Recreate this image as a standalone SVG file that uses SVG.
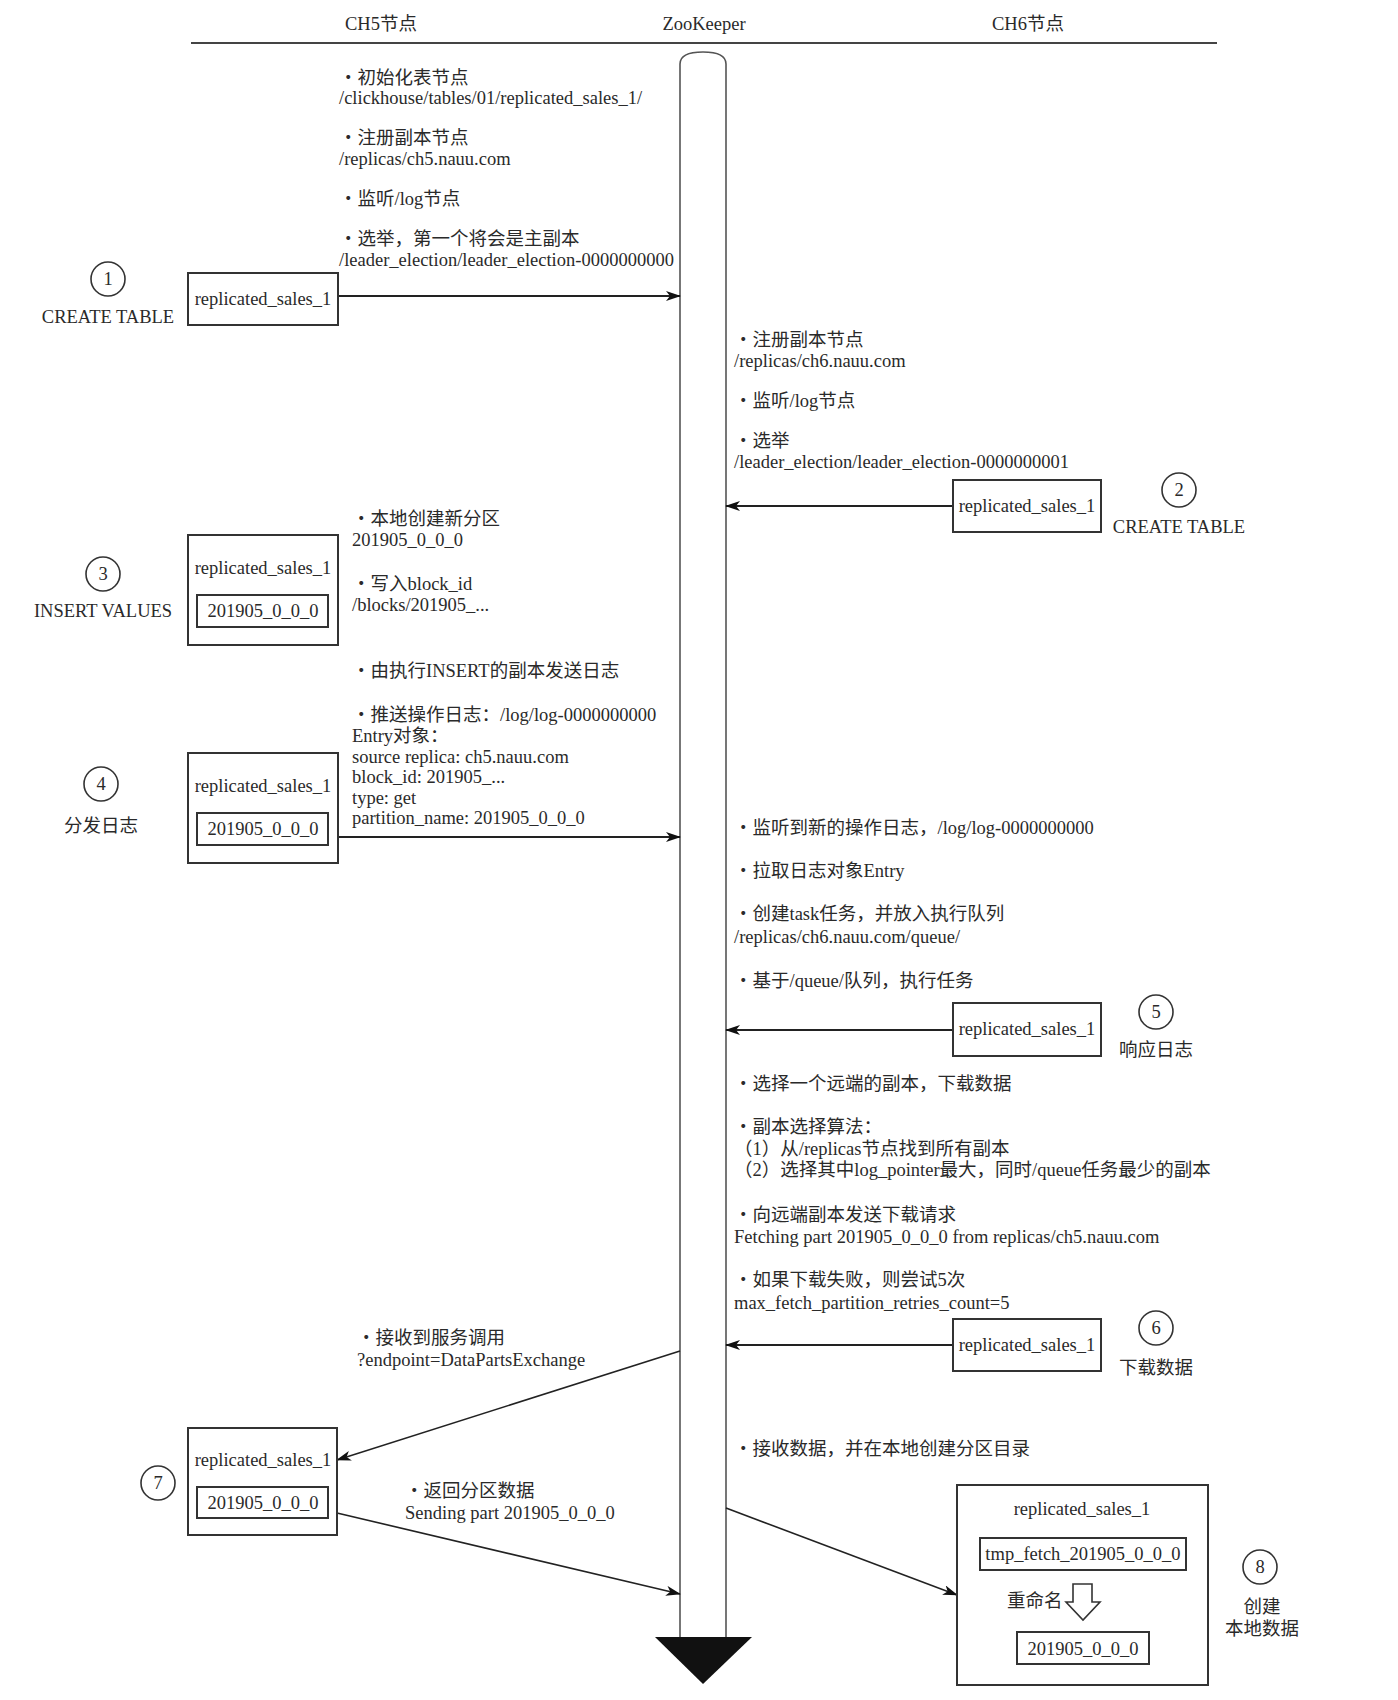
<svg xmlns="http://www.w3.org/2000/svg" width="1398" height="1700" viewBox="0 0 1398 1700">
<style>
.t{font-family:'Liberation Serif','Noto Sans CJK SC',serif;font-size:18.5px;fill:#2a2a2a}
.m{text-anchor:middle}
.box{fill:#fff;stroke:#333;stroke-width:2}
.circ{fill:none;stroke:#333;stroke-width:1.6}
.conn{stroke:#222;stroke-width:2;fill:none;marker-end:url(#ah)}
.diag{stroke:#222;stroke-width:1.6;fill:none;marker-end:url(#ah)}
</style>
<defs>
<marker id="ah" markerUnits="userSpaceOnUse" markerWidth="15" markerHeight="10" refX="14" refY="5" orient="auto">
<path d="M0,0 L15,5 L0,10 L4,5 z" fill="#111"/>
</marker>
</defs>
<rect width="1398" height="1700" fill="#fff"/>

<g id="header">
<text class="t m" x="381" y="30">CH5节点</text>
<text class="t m" x="704" y="30">ZooKeeper</text>
<text class="t m" x="1028" y="30">CH6节点</text>
<line x1="191" y1="43" x2="1217" y2="43" stroke="#444" stroke-width="2"/>
</g>

<g id="zookeeper">
<path d="M680,1637 V64 C680,55 690,52 703,52 C716,52 726,55 726,64 V1637" fill="#fff" stroke="#555" stroke-width="1.6"/>
<path d="M655,1637 L752,1637 L703,1684 z" fill="#111"/>
</g>

<g id="connectors">
<path class="conn" d="M338,296 H680"/>
<path class="conn" d="M953,506 H726"/>
<path class="conn" d="M338,837 H680"/>
<path class="conn" d="M953,1030 H726"/>
<path class="conn" d="M953,1345 H726"/>
<path class="diag" d="M680,1351 L337,1460"/>
<path class="diag" d="M337,1513 L680,1594"/>
<path class="diag" d="M726,1508 L957,1595"/>
</g>

<g id="notes-ch5-init">
<text class="t" x="339" y="84">・初始化表节点</text>
<text class="t" x="339" y="104">/clickhouse/tables/01/replicated_sales_1/</text>
<text class="t" x="339" y="144">・注册副本节点</text>
<text class="t" x="339" y="165">/replicas/ch5.nauu.com</text>
<text class="t" x="339" y="205">・监听/log节点</text>
<text class="t" x="339" y="245">・选举，第一个将会是主副本</text>
<text class="t" x="339" y="266">/leader_election/leader_election-0000000000</text>
</g>

<g id="node1">
<circle class="circ" cx="108" cy="279" r="17"/>
<text class="t m" x="108" y="285">1</text>
<text class="t m" x="108" y="323">CREATE TABLE</text>
<rect class="box" x="188" y="273" width="150" height="52"/>
<text class="t m" x="263" y="305">replicated_sales_1</text>
</g>

<g id="notes-ch6-init">
<text class="t" x="734" y="346">・注册副本节点</text>
<text class="t" x="734" y="367">/replicas/ch6.nauu.com</text>
<text class="t" x="734" y="407">・监听/log节点</text>
<text class="t" x="734" y="447">・选举</text>
<text class="t" x="734" y="468">/leader_election/leader_election-0000000001</text>
</g>

<g id="node2">
<rect class="box" x="953" y="480" width="148" height="52"/>
<text class="t m" x="1027" y="512">replicated_sales_1</text>
<circle class="circ" cx="1179" cy="490" r="17"/>
<text class="t m" x="1179" y="496">2</text>
<text class="t m" x="1179" y="533">CREATE TABLE</text>
</g>

<g id="node3">
<circle class="circ" cx="103" cy="574" r="17"/>
<text class="t m" x="103" y="580">3</text>
<text class="t m" x="103" y="617">INSERT VALUES</text>
<rect class="box" x="188" y="535" width="150" height="110"/>
<text class="t m" x="263" y="574">replicated_sales_1</text>
<rect class="box" x="197" y="595" width="131" height="32"/>
<text class="t m" x="263" y="617">201905_0_0_0</text>
</g>

<g id="notes-node3">
<text class="t" x="352" y="525">・本地创建新分区</text>
<text class="t" x="352" y="546">201905_0_0_0</text>
<text class="t" x="352" y="590">・写入block_id</text>
<text class="t" x="352" y="611">/blocks/201905_...</text>
</g>

<g id="notes-node4">
<text class="t" x="352" y="677">・由执行INSERT的副本发送日志</text>
<text class="t" x="352" y="721">・推送操作日志：/log/log-0000000000</text>
<text class="t" x="352" y="742">Entry对象：</text>
<text class="t" x="352" y="763">source replica: ch5.nauu.com</text>
<text class="t" x="352" y="783">block_id: 201905_...</text>
<text class="t" x="352" y="804">type: get</text>
<text class="t" x="352" y="824">partition_name: 201905_0_0_0</text>
</g>

<g id="node4">
<circle class="circ" cx="101" cy="784" r="17"/>
<text class="t m" x="101" y="790">4</text>
<text class="t m" x="101" y="832">分发日志</text>
<rect class="box" x="188" y="753" width="150" height="110"/>
<text class="t m" x="263" y="792">replicated_sales_1</text>
<rect class="box" x="197" y="813" width="131" height="32"/>
<text class="t m" x="263" y="835">201905_0_0_0</text>
</g>

<g id="notes-node5">
<text class="t" x="734" y="834">・监听到新的操作日志，/log/log-0000000000</text>
<text class="t" x="734" y="877">・拉取日志对象Entry</text>
<text class="t" x="734" y="920">・创建task任务，并放入执行队列</text>
<text class="t" x="734" y="943">/replicas/ch6.nauu.com/queue/</text>
<text class="t" x="734" y="987">・基于/queue/队列，执行任务</text>
</g>

<g id="node5">
<rect class="box" x="953" y="1003" width="148" height="53"/>
<text class="t m" x="1027" y="1035">replicated_sales_1</text>
<circle class="circ" cx="1156" cy="1012" r="17"/>
<text class="t m" x="1156" y="1018">5</text>
<text class="t m" x="1156" y="1056">响应日志</text>
</g>

<g id="notes-node6">
<text class="t" x="734" y="1090">・选择一个远端的副本，下载数据</text>
<text class="t" x="734" y="1133">・副本选择算法：</text>
<text class="t" x="734" y="1155">（1）从/replicas节点找到所有副本</text>
<text class="t" x="734" y="1176">（2）选择其中log_pointer最大，同时/queue任务最少的副本</text>
<text class="t" x="734" y="1221">・向远端副本发送下载请求</text>
<text class="t" x="734" y="1243">Fetching part 201905_0_0_0 from replicas/ch5.nauu.com</text>
<text class="t" x="734" y="1286">・如果下载失败，则尝试5次</text>
<text class="t" x="734" y="1309">max_fetch_partition_retries_count=5</text>
</g>

<g id="node6">
<rect class="box" x="953" y="1319" width="148" height="52"/>
<text class="t m" x="1027" y="1351">replicated_sales_1</text>
<circle class="circ" cx="1156" cy="1328" r="17"/>
<text class="t m" x="1156" y="1334">6</text>
<text class="t m" x="1156" y="1374">下载数据</text>
</g>

<g id="notes-node7">
<text class="t" x="357" y="1344">・接收到服务调用</text>
<text class="t" x="357" y="1366">?endpoint=DataPartsExchange</text>
<text class="t" x="405" y="1497">・返回分区数据</text>
<text class="t" x="405" y="1519">Sending part 201905_0_0_0</text>
</g>

<g id="node7">
<circle class="circ" cx="158" cy="1483" r="17"/>
<text class="t m" x="158" y="1489">7</text>
<rect class="box" x="188" y="1428" width="149" height="107"/>
<text class="t m" x="263" y="1466">replicated_sales_1</text>
<rect class="box" x="197" y="1487" width="131" height="31"/>
<text class="t m" x="263" y="1509">201905_0_0_0</text>
</g>

<g id="notes-node8">
<text class="t" x="734" y="1455">・接收数据，并在本地创建分区目录</text>
</g>

<g id="node8">
<rect class="box" x="957" y="1485" width="251" height="200"/>
<text class="t m" x="1082" y="1515">replicated_sales_1</text>
<rect class="box" x="980" y="1538" width="206" height="32"/>
<text class="t m" x="1083" y="1560">tmp_fetch_201905_0_0_0</text>
<text class="t" x="1007" y="1607">重命名</text>
<path d="M1073,1584 H1092 V1602 H1100 L1083,1620 L1066,1602 H1073 z" fill="#fff" stroke="#333" stroke-width="1.6"/>
<rect class="box" x="1017" y="1632" width="132" height="32"/>
<text class="t m" x="1083" y="1655">201905_0_0_0</text>
<circle class="circ" cx="1260" cy="1567" r="17"/>
<text class="t m" x="1260" y="1573">8</text>
<text class="t m" x="1262" y="1613">创建</text>
<text class="t m" x="1262" y="1635">本地数据</text>
</g>
</svg>
